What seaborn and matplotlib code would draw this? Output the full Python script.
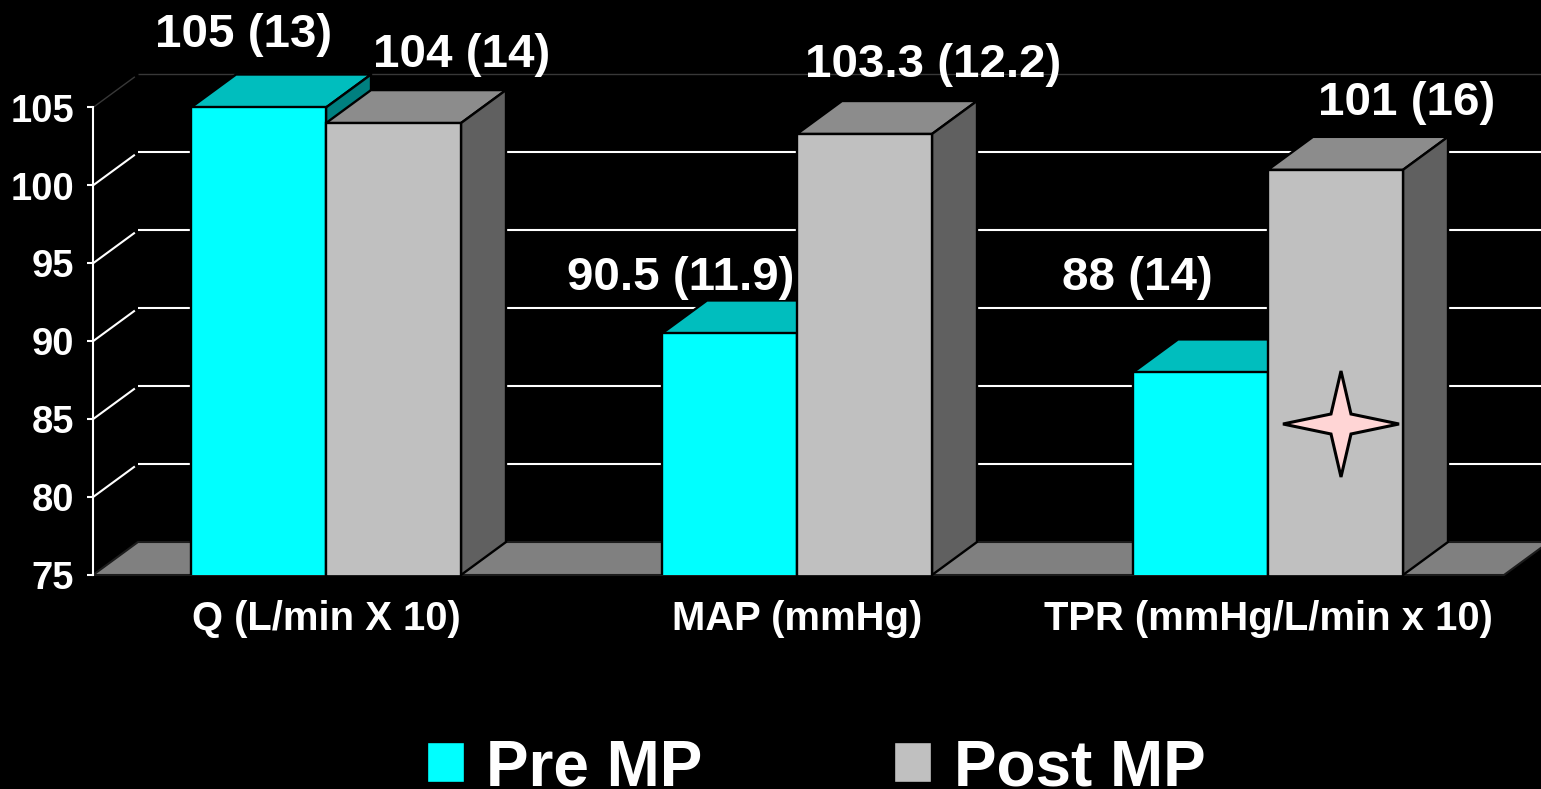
import matplotlib
matplotlib.use("Agg")
import matplotlib.pyplot as plt
import numpy as np
import pandas as pd
import seaborn as sns
from matplotlib.patches import Polygon
from matplotlib.transforms import Bbox, TransformedBbox, ScaledTranslation

# ---- data ----
categories = ["Q (L/min X 10)", "MAP (mmHg)", "TPR (mmHg/L/min x 10)"]
pre_values = [105, 90.5, 88]
post_values = [104, 103.3, 101]
pre_labels = ["105 (13)", "90.5 (11.9)", "88 (14)"]
post_labels = ["104 (14)", "103.3 (12.2)", "101 (16)"]
series_names = ["Pre MP", "Post MP"]
y_ticks = [75, 80, 85, 90, 95, 100, 105]

W, H = 1541, 789
sns.set_theme(style="dark")
plt.rcParams.update({
    "font.family": ["Liberation Sans", "DejaVu Sans"],
    "font.weight": "bold",
    "figure.facecolor": "black",
    "axes.facecolor": "black",
    "savefig.facecolor": "black",
})

fig = plt.figure(figsize=(W / 100, H / 100), dpi=100)
AX_L, AX_R, AX_B, AX_T = 93, 1504, 575, 107.5
ax = fig.add_axes([AX_L / W, 1 - AX_B / H, (AX_R - AX_L) / W, (AX_B - AX_T) / H])

df = pd.DataFrame({
    "category": categories * 2,
    "value": pre_values + post_values,
    "series": [series_names[0]] * 3 + [series_names[1]] * 3,
})
front = {series_names[0]: "#00FFFF", series_names[1]: "#C0C0C0"}
sns.barplot(data=df, x="category", y="value", hue="series", palette=front,
            hue_order=series_names, order=categories, width=135 * 2 / 471,
            gap=0, edgecolor="black", linewidth=1.7, saturation=1, ax=ax)

ax.set_ylim(75, 105)
ax.set_xlim((AX_L - 326) / 471, (AX_R - 326) / 471)
ax.set_xlabel("")
ax.set_ylabel("")
ax.grid(False)

# depth of the fake 3-D view, in pixels turned into data units
DX = 45 / 471
DY = 33 * 30 / (AX_B - AX_T)
Y0 = 75
x_left, x_right = ax.get_xlim()
x_max_far = x_right + DX + 0.2

# floor
floor = Polygon([(x_left, Y0), (x_left + DX, Y0 + DY),
                 (x_right + DX, Y0 + DY), (x_right, Y0)],
                closed=True, facecolor="#808080", edgecolor="#1c1c1c", lw=1.5,
                zorder=1, clip_on=False)
ax.add_patch(floor)

# walls and gridlines
for t in y_ticks[1:]:
    color = "#383838" if t == y_ticks[-1] else "white"
    lw = 1.0 if t == y_ticks[-1] else 1.5
    ax.plot([x_left, x_left + DX * 0.93], [t, t + DY * 0.93], color=color, lw=lw,
            clip_on=False, zorder=1, solid_capstyle="butt")
    ax.plot([x_left + DX, x_max_far], [t + DY, t + DY], color=color, lw=lw,
            clip_on=False, zorder=1, solid_capstyle="butt")

# bar tops and sides
shades = [("#00BEBE", "#008080"), ("#8C8C8C", "#606060")]
clip = TransformedBbox(Bbox([[0, 0], [1, 1.05]]), ax.transAxes)
for i, cont in enumerate(ax.containers):
    top_c, side_c = shades[i]
    for bar in cont:
        x0 = bar.get_x()
        x1 = x0 + bar.get_width()
        y1 = bar.get_height()
        bar.set_zorder(4 + 2 * i)
        bar.set_clip_box(clip)
        ax.add_patch(Polygon([(x0, y1), (x0 + DX, y1 + DY), (x1 + DX, y1 + DY), (x1, y1)],
                             closed=True, facecolor=top_c, edgecolor="black", lw=1.7,
                             zorder=3 + 2 * i, clip_on=False))
        ax.add_patch(Polygon([(x1, Y0), (x1, y1), (x1 + DX, y1 + DY), (x1 + DX, Y0 + DY)],
                             closed=True, facecolor=side_c, edgecolor="black", lw=1.7,
                             zorder=3 + 2 * i, clip_on=False))

# axis styling
for s in ["top", "right", "bottom"]:
    ax.spines[s].set_visible(False)
ax.spines["left"].set_color("white")
ax.spines["left"].set_linewidth(1.5)
ax.set_yticks(y_ticks)
ax.tick_params(axis="y", colors="white", labelsize=27.5, length=4, width=1.5, pad=9.5, left=True)
ax.tick_params(axis="x", colors="white", labelsize=28.8, length=0, pad=18)
shift_down = ScaledTranslation(0, -3 / 72, fig.dpi_scale_trans)
for lab in ax.get_yticklabels():
    lab.set_fontweight("bold")
    lab.set_va("center")
    lab.set_transform(lab.get_transform() + shift_down)
for lab in ax.get_xticklabels():
    lab.set_fontweight("bold")

# value labels
def fig_px(x, y):
    return x / W, 1 - y / H

label_px = [(244, 35), (681, 278), (1137, 278)], [(462, 55), (933, 65), (1407, 103)]
for texts, places in zip((pre_labels, post_labels), label_px):
    for s, (px, py) in zip(texts, places):
        fx, fy = fig_px(px, py)
        fig.text(fx, fy, s, color="white", fontsize=34.2, fontweight="bold",
                 ha="center", va="center", zorder=10)

# star marker on the significant bar
cx, cy = 1341, 424
ra, rb, ri = 58, 53, 10
star_px = [(cx - ra, cy), (cx - ri, cy - ri), (cx, cy - rb), (cx + ri, cy - ri),
           (cx + ra, cy), (cx + ri, cy + ri), (cx, cy + rb), (cx - ri, cy + ri)]
star = Polygon([fig_px(*p) for p in star_px], closed=True, transform=fig.transFigure,
               facecolor="#FFD5D5", edgecolor="black", lw=2.2, zorder=10)
fig.add_artist(star)

# legend
handles, labels = ax.get_legend_handles_labels()
ax.get_legend().remove()
leg = fig.legend(handles, labels, loc="center", bbox_to_anchor=fig_px(816, 768), ncol=2,
                 frameon=False, handlelength=0.6, handleheight=0.6, handletextpad=0.33,
                 columnspacing=3.0, borderpad=0, labelcolor="white",
                 prop={"size": 46, "weight": "bold", "family": "Liberation Sans"})

fig.savefig("out.png", dpi=100, facecolor="black")
